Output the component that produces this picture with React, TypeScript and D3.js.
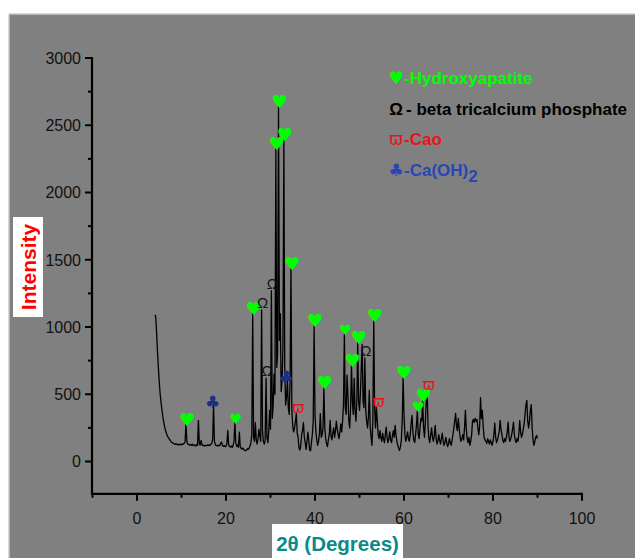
import React from "react";
import * as d3 from "d3";

// XRD pattern sampled every 0.2° from 4.0° to 90.0° (2θ)
const thetaStart = 4.0;
const thetaStep = 0.2;
const intensity: number[] = [
  1090, 1080, 960, 820, 700, 590, 505, 440, 385, 335,
  295, 260, 232, 210, 192, 180, 170, 160, 150, 143,
  138, 135, 130, 128, 133, 125, 127, 122, 130, 126,
  124, 132, 128, 135, 145, 281, 150, 130, 127, 122,
  125, 120, 128, 118, 124, 121, 115, 126, 120, 306,
  135, 122, 157, 125, 118, 122, 115, 120, 117, 124,
  118, 125, 120, 128, 135, 165, 418, 150, 125, 118,
  120, 115, 122, 118, 138, 144, 120, 112, 118, 110,
  116, 130, 231, 125, 110, 108, 115, 104, 120, 150,
  293, 140, 112, 125, 105, 219, 110, 98, 92, 100,
  88, 85, 80, 84, 95, 90, 100, 115, 140, 200,
  1104, 180, 150, 290, 160, 130, 170, 240, 190, 150,
  1127, 230, 150, 130, 160, 620, 180, 140, 220, 380,
  240, 1270, 320, 420, 650, 500, 2330, 700, 800, 2640,
  900, 1100, 520, 600, 850, 2400, 700, 420, 480, 605,
  400, 350, 600, 1440, 380, 260, 220, 250, 300, 358,
  210, 180, 100, 85, 120, 200, 230, 290, 180, 140,
  90, 150, 219, 160, 85, 80, 140, 200, 300, 1015,
  350, 220, 160, 120, 150, 210, 356, 180, 200, 250,
  555, 250, 170, 130, 110, 160, 200, 306, 190, 160,
  210, 250, 180, 230, 300, 240, 200, 170, 220, 280,
  220, 300, 420, 953, 400, 350, 642, 500, 300, 250,
  400, 716, 450, 350, 620, 380, 300, 450, 890, 450,
  380, 500, 700, 870, 450, 400, 770, 380, 300, 250,
  330, 530, 260, 180, 120, 300, 1052, 400, 250, 405,
  300, 200, 170, 230, 180, 150, 210, 170, 140, 200,
  256, 180, 140, 170, 220, 160, 140, 190, 230, 180,
  269, 200, 150, 120, 100, 82, 110, 160, 300, 629,
  350, 200, 150, 180, 220, 170, 150, 200, 280, 343,
  220, 160, 140, 200, 270, 380, 200, 170, 250, 320,
  300, 455, 250, 180, 300, 440, 535, 260, 170, 140,
  200, 250, 180, 150, 190, 269, 180, 130, 150, 200,
  160, 130, 170, 210, 150, 120, 140, 180, 140, 110,
  130, 170, 140, 120, 160, 200, 250, 300, 358, 260,
  230, 320, 250, 180, 150, 170, 200, 160, 250, 380,
  240, 170, 140, 180, 120, 150, 200, 300, 313, 290,
  320, 300, 313, 250, 200, 260, 475, 320, 380, 260,
  180, 160, 150, 134, 170, 150, 130, 160, 140, 120,
  150, 200, 285, 180, 140, 160, 190, 220, 306, 240,
  200, 160, 140, 170, 150, 180, 220, 293, 180, 150,
  170, 200, 240, 293, 200, 160, 140, 170, 150, 200,
  305, 220, 180, 200, 240, 280, 350, 420, 455, 300,
  250, 300, 380, 423, 250, 160, 120, 150, 180, 194,
  170,
];

// Phase markers: [2θ, peak intensity]
const hydroxyapatite: [number, number][] = [
  [11.0, 281], [26.0, 1104], [31.2, 2330], [31.8, 2640], [33.0, 2400],
  [34.6, 1440], [39.8, 1015], [42.0, 555], [48.2, 716], [49.6, 890],
  [53.2, 1052], [59.8, 629], [64.2, 455],
];
const hydroxyapatiteMinor: [number, number][] = [
  [22.0, 293], [46.6, 953], [63.0, 380],
];
const betaTCP: [number, number][] = [
  [28.0, 1127], [29.0, 620], [30.2, 1270], [51.2, 770],
];
const cao: [number, number][] = [
  [35.8, 358], [53.8, 405], [65.2, 535],
];
const caoh2: [number, number][] = [
  [17.2, 418], [33.8, 605],
];

const yMajorTicks = [0, 500, 1000, 1500, 2000, 2500, 3000];
const yMinorTicks = [250, 750, 1250, 1750, 2250, 2750];
const xMajorTicks = [0, 20, 40, 60, 80, 100];
const xMinorTicks = [-10, 10, 30, 50, 70, 90];

const legendItems = [
  { sym: "\u2665", label: "-Hydroxyapatite", color: "#00ff00" },
  { sym: "\u03A9", label: "- beta tricalcium phosphate", color: "#000000" },
  { sym: "\u03D6", label: "-Cao", color: "#e8141b" },
  { sym: "\u2663", label: "-Ca(OH)", sub: "2", color: "#2846b8" },
];

const FONT = "'Liberation Sans', Arial, sans-serif";
const SYM = "'DejaVu Sans', sans-serif";

export default function App() {
  const W = 635;
  const H = 558;
  const x = d3.scaleLinear().domain([-10, 100]).range([92.5, 582]);
  const y = d3.scaleLinear().domain([0, 3000]).range([461.5, 58]);
  const axisY = y(-240);
  const axisX = 92;

  const pts: [number, number][] = intensity.map((v, i) => [thetaStart + i * thetaStep, v]);
  const line = d3
    .line<[number, number]>()
    .x((d) => x(d[0]))
    .y((d) => y(d[1]));

  return (
    <svg
      width={W}
      height={H}
      style={{ position: "absolute", left: 0, top: 0, display: "block" }}
    >
      <rect x={0} y={0} width={W} height={H} fill="#ffffff" />
      <rect x={9} y={14} width={W - 9} height={H - 14} fill="#808080" />
      <line x1={9} y1={14} x2={W} y2={14} stroke="#c8c8c8" strokeWidth={1.5} />
      <line x1={9} y1={14} x2={9} y2={H} stroke="#c8c8c8" strokeWidth={1.5} />

      {/* data line */}
      <path d={line(pts) || ""} fill="none" stroke="#000" strokeWidth={1.3} strokeLinejoin="round" />

      {/* axes */}
      <line x1={axisX} y1={y(3000) - 1} x2={axisX} y2={axisY + 1} stroke="#000" strokeWidth={2.2} />
      <line x1={axisX - 1} y1={axisY} x2={x(100) + 1} y2={axisY} stroke="#000" strokeWidth={2.2} />
      {yMajorTicks.map((t) => (
        <g key={"ym" + t}>
          <line x1={axisX - 7} x2={axisX} y1={y(t)} y2={y(t)} stroke="#000" strokeWidth={2} />
          <text x={axisX - 11} y={y(t)} dy="0.36em" textAnchor="end" fontFamily={FONT} fontSize={16} fill="#111">
            {t}
          </text>
        </g>
      ))}
      {yMinorTicks.map((t) => (
        <line key={"yn" + t} x1={axisX - 4} x2={axisX} y1={y(t)} y2={y(t)} stroke="#000" strokeWidth={2} />
      ))}
      {xMajorTicks.map((t) => (
        <g key={"xm" + t}>
          <line x1={x(t)} x2={x(t)} y1={axisY} y2={axisY + 7} stroke="#000" strokeWidth={2} />
          <text x={x(t)} y={axisY + 30} textAnchor="middle" fontFamily={FONT} fontSize={16} fill="#111">
            {t}
          </text>
        </g>
      ))}
      {xMinorTicks.map((t) => (
        <line key={"xn" + t} x1={x(t)} x2={x(t)} y1={axisY} y2={axisY + 4} stroke="#000" strokeWidth={2} />
      ))}

      {/* markers */}
      {hydroxyapatite.map(([a, v], i) => (
        <text key={"h" + i} x={x(a) + 1} y={y(v) + 2} textAnchor="middle" fontFamily={SYM} fontSize={18} fill="#00ff00">
          {"\u2665"}
        </text>
      ))}
      {hydroxyapatiteMinor.map(([a, v], i) => (
        <text key={"hm" + i} x={x(a) + 1} y={y(v) + 2} textAnchor="middle" fontFamily={SYM} fontSize={14} fill="#00ff00">
          {"\u2665"}
        </text>
      ))}
      {betaTCP.map(([a, v], i) => (
        <text key={"o" + i} x={x(a) + 1} y={y(v) - 2} textAnchor="middle" fontFamily={FONT} fontSize={15} fill="#111">
          {"\u03A9"}
        </text>
      ))}
      {cao.map(([a, v], i) => (
        <text key={"c" + i} x={x(a) + 2} y={y(v)} textAnchor="middle" fontFamily={SYM} fontSize={15} fill="#e8141b">
          {"\u03D6"}
        </text>
      ))}
      {caoh2.map(([a, v], i) => (
        <text key={"b" + i} x={x(a) - 1} y={y(v) + 3} textAnchor="middle" fontFamily={SYM} fontSize={17} fill="#1c2f86">
          {"\u2663"}
        </text>
      ))}

      {/* legend */}
      {legendItems.map((it, i) => {
        const by = 84 + i * 30.6;
        return (
          <g key={"lg" + i}>
            <text
              x={396}
              y={by}
              textAnchor="middle"
              fontFamily={i === 1 ? FONT : SYM}
              fontWeight={i === 1 ? "bold" : "normal"}
              fontSize={i === 1 ? 17 : 17}
              fill={it.color}
            >
              {it.sym}
            </text>
            <text x={i === 1 ? 406 : 404} y={by} fontFamily={FONT} fontWeight="bold" fontSize={17} fill={it.color}>
              {it.label}
              {it.sub ? (
                <tspan dy={6} fontSize={17}>
                  {it.sub}
                </tspan>
              ) : null}
            </text>
          </g>
        );
      })}

      {/* axis titles */}
      <rect x={13} y={217} width={30} height={100} fill="#ffffff" />
      <text
        transform="translate(36,267) rotate(-90)"
        textAnchor="middle"
        fontFamily={FONT}
        fontWeight="bold"
        fontSize={21}
        fill="#ff0000"
      >
        Intensity
      </text>
      <rect x={272} y={524} width={131} height={34} fill="#ffffff" />
      <text x={337.5} y={551} textAnchor="middle" fontFamily={FONT} fontWeight="bold" fontSize={20.5} fill="#0a8a8a">
        2θ (Degrees)
      </text>
    </svg>
  );
}
